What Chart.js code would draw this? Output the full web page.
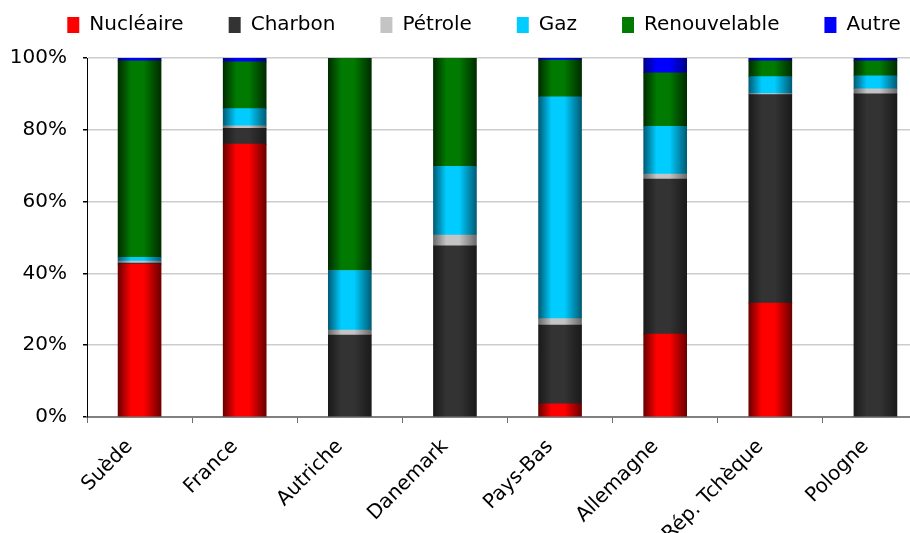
<!DOCTYPE html>
<html>
<head>
<meta charset="utf-8">
<script src="https://cdn.jsdelivr.net/npm/chart.js@4/dist/chart.umd.min.js"></script>
<style>
  html, body { margin: 0; padding: 0; background: #fff; overflow: hidden; }
  #wrap { width: 930px; height: 533px; }
</style>
</head>
<body>
<div id="wrap"><canvas id="grafico"></canvas></div>
<script>
const pays = ['Suède', 'France', 'Autriche', 'Danemark', 'Pays-Bas', 'Allemagne', 'Rép. Tchèque', 'Pologne'];

// null = pas de part pour ce pays
const nucleaire    = [42.6, 76.0, null, null,  3.7, 23.1, 31.7, null];
const charbon      = [ 0.3,  4.4, 22.8, 47.7, 21.9, 43.2, 58.1, 90.0];
const petrole      = [ 0.5,  0.7,  1.4,  3.0,  1.8,  1.4,  0.3,  1.4];
const gaz          = [ 1.1,  4.8, 16.6, 19.1, 61.8, 13.3,  4.7,  3.6];
const renouvelable = [54.7, 13.0, 59.2, 30.2, 10.2, 14.9,  4.4,  4.2];
const autre        = [ 0.8,  1.1, null, null,  0.6,  4.1,  0.8,  0.8];

const yTicks = [0, 20, 40, 60, 80, 100];

const police = 'DejaVu Sans';
const largeurBarre = 43;

// bord sombre, centre clair (effet cylindre)
function degrade(clair, sombre) {
  return (ctx) => {
    const chart = ctx.chart;
    if (ctx.type !== 'data' || !chart.scales.x) return clair;
    const x = chart.scales.x.getPixelForValue(ctx.dataIndex);
    if (!isFinite(x)) return clair;
    const g = chart.ctx.createLinearGradient(x - largeurBarre / 2, 0, x + largeurBarre / 2, 0);
    g.addColorStop(0, sombre);
    g.addColorStop(0.3, clair);
    g.addColorStop(0.6, clair);
    g.addColorStop(1, sombre);
    return g;
  };
}

const couleursLegende = [];

function serie(label, data, clair, sombre) {
  couleursLegende.push(clair);
  return {
    label: label,
    data: data,
    backgroundColor: degrade(clair, sombre),
    borderWidth: 0,
    barThickness: largeurBarre
  };
}

// la légende est remontée et décalée après la mise en page
const decalageLegende = {
  id: 'decalageLegende',
  afterLayout(chart) {
    const lg = chart.legend;
    if (!lg) return;
    lg.top -= 13;
    lg.bottom -= 13;
    lg.left += 20;
    lg.right += 20;
  }
};

const config = {
  type: 'bar',
  data: {
    labels: pays,
    datasets: [
      serie('Nucléaire', nucleaire, '#ff0000', '#6a0000'),
      serie('Charbon', charbon, '#333333', '#1a1a1a'),
      serie('Pétrole', petrole, '#c4c4c4', '#6a6a6a'),
      serie('Gaz', gaz, '#00ccff', '#005c75'),
      serie('Renouvelable', renouvelable, '#007a00', '#002c00'),
      serie('Autre', autre, '#0000ff', '#000088')
    ]
  },
  options: {
    responsive: true,
    maintainAspectRatio: false,
    animation: false,
    layout: { padding: { left: 0, right: 2, top: -17, bottom: 0 } },
    plugins: {
      tooltip: { enabled: false },
      legend: {
        position: 'top',
        labels: {
          color: '#000',
          font: { family: police, size: 20 },
          boxWidth: 12,
          boxHeight: 16,
          padding: 45,
          generateLabels: (chart) => chart.data.datasets.map((ds, i) => ({
            text: ds.label,
            fillStyle: couleursLegende[i],
            strokeStyle: couleursLegende[i],
            lineWidth: 0,
            hidden: false,
            datasetIndex: i,
            fontColor: '#000'
          }))
        }
      }
    },
    scales: {
      x: {
        stacked: true,
        grid: {
          offset: true,
          drawOnChartArea: false,
          drawTicks: true,
          tickLength: 6,
          color: '#6e6e6e',
          lineWidth: 1
        },
        border: { color: '#808080', width: 2 },
        ticks: {
          color: '#000',
          font: { family: police, size: 20 },
          minRotation: 45,
          maxRotation: 45,
          autoSkip: false,
          padding: 12,
          labelOffset: -10
        },
        afterFit: (scale) => { scale.height = 116; }
      },
      y: {
        stacked: true,
        min: 0,
        max: 100,
        afterBuildTicks: (scale) => { scale.ticks = yTicks.map(v => ({ value: v })); },
        grid: {
          color: '#cccccc',
          lineWidth: 1.5,
          tickLength: 4,
          tickColor: '#000'
        },
        border: { color: '#000', width: 1 },
        ticks: {
          color: '#000',
          font: { family: police, size: 20 },
          padding: 16,
          callback: (v) => v + '%'
        },
        afterFit: (scale) => { scale.width = 87; }
      }
    }
  },
  plugins: [decalageLegende]
};

new Chart(document.getElementById('grafico'), config);
</script>
</body>
</html>
